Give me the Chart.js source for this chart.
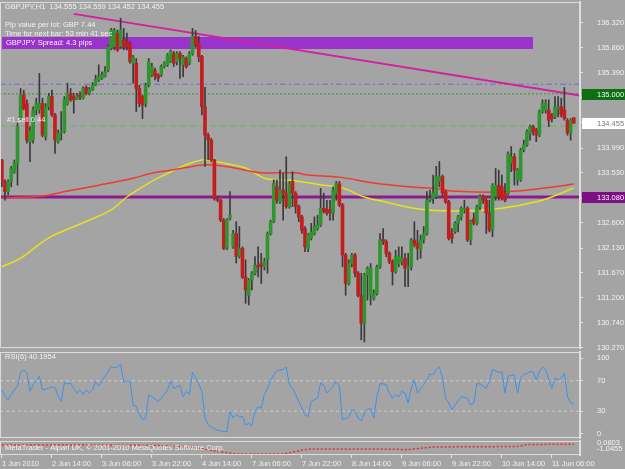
<!DOCTYPE html>
<html>
<head>
<meta charset="utf-8">
<title>GBPJPY,H1</title>
<script src="https://cdn.jsdelivr.net/npm/chart.js@4.4.1/dist/chart.umd.min.js"></script>
<style>
  html, body { margin: 0; padding: 0; background: #a5a4a4; }
  #wrap { position: relative; width: 625px; height: 469px; overflow: hidden; background: #a5a4a4; }
  #wrap canvas { position: absolute; left: 0; }
</style>
</head>
<body>
<div id="wrap">
  <canvas id="priceChart" width="625" height="356" style="top:0px"></canvas>
  <canvas id="rsiChart" width="625" height="90" style="top:350px"></canvas>
  <canvas id="lowerChart" width="625" height="31" style="top:438px"></canvas>
</div>
<script>
const FONT = "'Liberation Sans', Arial, sans-serif";
const TEXT = '#f2f2f2';
const FRAME = '#dcdcdc';
const X_MIN = -0.6;
const X_MAX = 185;

// tick labels
const timeLabels = ['1 Jun 2010', '2 Jun 14:00', '3 Jun 06:00', '3 Jun 22:00', '4 Jun 14:00', '7 Jun 06:00',
  '7 Jun 22:00', '8 Jun 14:00', '9 Jun 06:00', '9 Jun 22:00', '10 Jun 14:00', '11 Jun 06:00'];
const timeLabelBars = [0, 16, 32, 48, 64, 80, 96, 112, 128, 144, 160, 176];
const priceTicks = [136.320, 135.860, 135.390, 134.930, 134.460, 133.990, 133.530, 133.060,
  132.600, 132.130, 131.670, 131.200, 130.740, 130.270];
const rsiTicks = [0, 30, 70, 100];

// hourly candles, 1 Jun 22:00 .. 11 Jun 13:00
const openP = [
  133.77,133.37,133.18,133.37,133.55,133.70,134.54,134.98,134.82,134.11,
  134.14,134.70,134.70,134.82,134.20,134.76,134.95,134.61,134.11,134.27,
  134.30,134.82,135.01,134.95,134.90,134.98,134.92,135.12,135.02,135.07,
  135.16,135.26,135.29,135.32,135.44,135.85,135.88,136.13,135.88,136.00,
  135.97,135.94,135.57,135.57,135.10,134.95,134.82,135.16,135.35,135.44,
  135.35,135.35,135.51,135.54,135.60,135.75,135.60,135.75,135.54,135.66,
  135.57,135.75,136.07,135.94,135.70,134.76,134.23,134.14,133.77,133.05,
  133.02,132.65,132.12,132.68,132.15,132.40,131.97,132.12,131.59,131.25,
  131.53,131.66,131.81,131.84,131.78,131.91,132.40,132.62,133.27,132.99,
  133.21,133.15,132.90,133.37,133.15,132.90,132.71,132.49,132.12,132.31,
  132.40,132.49,132.56,132.87,132.85,132.84,132.78,133.15,133.33,132.93,
  132.00,131.47,131.84,132.00,131.66,131.25,130.73,131.63,131.25,131.19,
  131.28,131.78,132.29,132.25,132.03,131.88,131.69,131.84,131.88,131.94,
  131.75,131.78,132.28,132.22,132.12,132.28,132.40,133.02,133.05,133.09,
  133.37,133.46,133.18,132.99,132.40,132.43,132.59,132.71,132.84,132.87,
  132.28,132.68,132.59,132.90,133.09,133.02,132.78,132.46,133.09,133.30,
  133.27,133.15,133.15,133.71,133.83,133.40,133.40,133.96,134.05,134.27,
  134.39,134.33,134.23,134.67,134.70,134.70,134.61,134.57,134.73,134.76,
  134.70,134.51,134.27,134.555];
const highP = [
  133.78,133.40,133.40,133.65,133.77,134.45,135.10,135.07,134.89,134.39,
  134.76,134.92,135.38,134.92,134.82,135.01,135.07,134.64,134.33,134.67,
  134.95,135.20,135.10,135.01,135.01,135.04,135.13,135.15,135.12,135.21,
  135.35,135.54,135.41,135.51,135.91,136.22,136.22,136.19,136.41,136.22,
  136.13,135.97,135.72,135.66,135.16,134.98,135.20,135.66,135.57,135.48,
  135.38,135.54,135.60,135.75,135.82,135.79,135.79,135.79,135.72,135.69,
  135.79,136.22,136.18,136.07,135.72,135.12,134.27,134.17,133.78,133.08,
  133.04,132.68,132.68,133.18,132.46,132.62,132.53,132.15,131.91,131.56,
  131.69,131.97,132.15,132.03,131.94,132.43,132.65,133.40,133.40,133.58,
  133.52,133.83,133.37,133.55,133.18,132.93,132.74,132.53,132.40,132.59,
  132.71,132.74,133.24,133.15,133.02,133.02,133.27,133.37,133.37,132.96,
  132.03,131.91,132.03,132.03,131.69,131.66,131.66,131.78,131.84,131.35,
  131.81,132.40,132.49,132.28,132.06,131.91,132.09,132.15,132.15,132.03,
  132.03,132.31,132.62,132.46,132.37,132.53,133.18,133.21,133.49,133.65,
  133.74,133.49,133.20,133.02,132.49,132.62,132.74,132.90,133.02,132.90,
  132.65,132.78,132.93,133.12,133.12,133.05,133.02,133.33,133.61,133.58,
  133.49,133.33,133.92,134.02,133.89,133.61,133.99,134.14,134.33,134.42,
  134.42,134.36,134.70,134.89,134.89,134.89,134.64,134.95,134.95,134.92,
  135.12,134.54,134.54,134.559];
const lowP = [
  133.27,133.02,133.12,133.27,133.52,133.30,134.51,134.70,134.08,133.74,
  134.08,134.61,134.64,134.20,134.14,134.70,134.58,133.89,134.08,134.14,
  134.27,134.79,134.86,134.64,134.89,134.89,134.90,134.98,134.98,135.06,
  135.15,135.23,135.27,135.31,135.41,135.82,135.82,135.79,135.85,135.82,
  135.82,135.57,135.20,134.67,134.76,134.54,134.76,135.13,135.32,135.26,
  135.23,135.32,135.48,135.51,135.58,135.51,135.54,135.29,135.32,135.48,
  135.54,135.72,135.88,135.60,134.61,133.65,133.77,133.74,133.02,132.99,
  132.62,132.10,132.10,132.65,132.12,131.85,131.94,131.56,131.10,131.07,
  131.35,131.63,131.59,131.47,131.72,131.66,132.37,132.60,132.96,132.96,
  132.65,132.87,132.87,132.90,132.78,132.62,132.40,132.06,132.06,132.28,
  132.37,132.46,132.53,132.78,132.74,132.65,132.65,133.02,132.90,131.78,
  131.25,131.44,131.78,131.59,131.22,130.42,130.38,131.16,131.07,131.16,
  131.25,131.75,132.19,131.97,131.84,131.44,131.66,131.78,131.81,131.41,
  131.41,131.72,132.15,131.91,131.94,132.22,132.37,132.99,132.96,133.05,
  133.27,133.09,132.96,132.28,132.22,132.40,132.43,132.65,132.78,132.25,
  132.19,132.56,132.56,132.84,132.96,132.40,132.43,132.34,133.02,133.02,
  133.02,132.99,133.12,133.55,133.30,133.30,133.37,133.92,134.02,134.14,
  134.23,134.11,134.20,134.64,134.64,134.39,134.48,134.54,134.57,134.57,
  134.51,134.23,134.14,134.452];
const closeP = [
  133.37,133.18,133.37,133.61,133.72,134.39,134.98,134.73,134.14,134.30,
  134.70,134.82,134.82,134.23,134.76,134.95,134.61,134.14,134.27,134.30,
  134.89,135.01,134.89,134.89,134.96,134.94,135.10,135.01,135.08,135.16,
  135.27,135.33,135.35,135.41,135.88,136.19,136.18,135.82,136.19,135.88,
  135.88,135.60,135.68,135.10,134.82,134.79,135.16,135.60,135.51,135.33,
  135.29,135.51,135.57,135.72,135.79,135.57,135.75,135.66,135.69,135.51,
  135.75,136.07,135.91,135.69,134.76,134.23,134.14,133.77,133.05,133.02,
  132.65,132.12,132.65,132.74,132.40,131.97,132.12,131.59,131.35,131.53,
  131.66,131.81,131.78,131.78,131.88,132.40,132.62,133.33,133.02,133.21,
  133.15,132.90,133.33,133.15,132.90,132.71,132.46,132.15,132.37,132.43,
  132.53,132.56,132.87,132.81,132.78,132.78,133.21,133.33,132.93,132.00,
  131.47,131.84,132.00,131.66,131.25,130.73,131.63,131.75,131.75,131.28,
  131.78,132.28,132.25,132.03,131.88,131.69,131.97,131.97,131.94,131.75,
  131.78,132.28,132.19,132.12,132.28,132.40,133.02,133.05,133.15,133.46,
  133.46,133.15,132.99,132.31,132.31,132.59,132.71,132.87,132.87,132.28,
  132.62,132.59,132.90,133.09,133.02,132.78,132.46,133.30,133.30,133.09,
  133.05,133.02,133.89,133.83,133.58,133.58,133.96,134.05,134.30,134.39,
  134.30,134.23,134.67,134.82,134.82,134.51,134.54,134.76,134.76,134.61,
  134.54,134.27,134.51,134.455];

// moving averages (read at these bars)
const redMABars = [0, 13, 21, 31, 42, 47, 54, 60, 65, 70, 78, 83, 94, 98, 108, 119, 130, 140, 144, 155, 165, 174, 183];
const redMA = [133.06, 133.10, 133.19, 133.30, 133.43, 133.51, 133.58, 133.64, 133.68, 133.66, 133.58, 133.53,
  133.53, 133.49, 133.45, 133.34, 133.27, 133.23, 133.19, 133.17, 133.19, 133.25, 133.32];
const yellowMABars = [0, 6, 15, 26, 35, 40, 47, 52, 59, 64, 67, 72, 78, 84, 88, 94, 103, 109, 116, 124, 130, 136,
  149, 160, 171, 176, 183];
const yellowMA = [131.78, 131.94, 132.32, 132.60, 132.84, 133.08, 133.34, 133.49, 133.68, 133.77, 133.75, 133.70,
  133.62, 133.43, 133.40, 133.38, 133.30, 133.25, 133.08, 132.97, 132.89, 132.84, 132.82, 132.87, 132.99, 133.08, 133.25];

// drawn objects
const trendBars = [23, 185];
const trendPrices = [136.49, 134.97];
const supportLevel = 133.08;
const roundLevel = 135.00;
const pivotLevel = 135.18;
const orderLevel = 134.40;
const bidPrice = 134.455;

// RSI(6)
const rsiValues = [
  58,50,45,52,58,63,81,85,80,56, 65,70,76,58,59,60,62,61,50,43,
  68,66,67,60,54,58,52,58,54,58, 69,63,69,76,82,89,87,88,92,68,
  70,69,38,36,26,19,21,52,49,46, 43,47,52,58,70,60,62,64,49,56,
  52,81,74,66,56,21,12,9,7,5, 4,3,3,30,21,25,23,23,12,14,
  11,30,36,34,52,60,70,78,83,84, 85,88,65,60,52,43,34,25,23,43,
  45,47,67,64,54,58,63,69,63,19, 20,22,32,31,21,17,27,32,34,21,
  49,66,66,65,54,47,52,49,56,54, 41,60,71,54,60,65,71,79,78,85,
  88,74,47,41,32,38,44,49,48,47, 38,41,66,66,63,60,69,85,83,81,
  82,54,76,77,78,54,74,78,80,82, 82,71,82,88,85,72,60,74,71,74,
  80,49,41,40.1954];
const rsiLevels = [70, 30];

// lower indicator (dotted)
const lowerBars = [0, 25, 50, 62, 68, 75, 90, 98, 120, 130, 138, 165, 168, 183];
const lowerValues = [-0.2, -0.2, -0.25, -0.45, -0.8, -1.1, -1.1, -0.6, -0.6, -0.65, -0.4, -0.35, -0.15, -0.12];

const barIdx = closeP.map((c, i) => i);
const pts = (xs, ys) => xs.map((x, i) => ({ x: x, y: ys[i] }));
const flat = v => [{ x: X_MIN, y: v }, { x: X_MAX, y: v }];

function fixY(scale) {
  scale.width = 45;
  scale.paddingTop = 0;
  scale.paddingBottom = 0;
}

function yAxis(extra) {
  return Object.assign({
    position: 'right',
    afterFit: fixY,
    grid: { drawOnChartArea: false, tickLength: 3, color: '#e2e2e2' },
    border: { color: '#e2e2e2', width: 2 },
    ticks: { color: TEXT, font: { family: FONT, size: 7.5 }, padding: 14, autoSkip: false }
  }, extra);
}

const hiddenX = { type: 'linear', min: X_MIN, max: X_MAX, offset: false, display: false };

// light frame round each panel
const framePlugin = {
  id: 'frame',
  afterDraw(chart) {
    const a = chart.chartArea, ctx = chart.ctx;
    ctx.save();
    ctx.strokeStyle = FRAME;
    ctx.lineWidth = 1;
    ctx.strokeRect(a.left + 0.5, a.top + 0.5, a.width - 1, a.height - 1);
    ctx.restore();
  }
};

function text(ctx, s, x, y, color, align) {
  ctx.fillStyle = color || TEXT;
  ctx.textAlign = align || 'left';
  ctx.fillText(s, x, y);
}

// spread banner, header lines, price boxes
const overlayPlugin = {
  id: 'overlay',
  beforeDatasetsDraw(chart) {
    const ctx = chart.ctx;
    ctx.save();
    ctx.fillStyle = '#9a33cc';
    ctx.fillRect(2, 37, 531, 12);
    ctx.restore();
  },
  afterDraw(chart) {
    const ctx = chart.ctx, y = chart.scales.y;
    ctx.save();
    ctx.font = '7.5px ' + FONT;
    ctx.textBaseline = 'middle';
    text(ctx, 'GBPJPY,H1  134.555 134.559 134.452 134.455', 5, 7);
    text(ctx, 'Pip value per lot: GBP 7.44', 5, 25);
    text(ctx, 'Time for next bar: 53 min 41 sec', 5, 34);
    text(ctx, 'GBPJPY Spread: 4.3 pips', 6, 43);
    text(ctx, '#1 sell 0.44', 7, y.getPixelForValue(orderLevel) - 6);

    const boxes = [
      [roundLevel, '#0d6e12', '135.000', '#f4f4f4'],
      [bidPrice, '#ffffff', '134.455', '#7a7a7a'],
      [supportLevel, '#7d0f85', '133.080', '#f4f4f4']
    ];
    boxes.forEach(b => {
      const py = Math.round(y.getPixelForValue(b[0]));
      ctx.fillStyle = b[1];
      ctx.fillRect(582, py - 5, 43, 11);
      text(ctx, b[2], 597, py + 0.5, b[3]);
    });
    ctx.restore();
  }
};

const lineDs = (data, color, extra) => Object.assign({
  type: 'line', data: data, borderColor: color, borderWidth: 1, pointRadius: 0,
  fill: false, tension: 0, yAxisID: 'y'
}, extra);

new Chart(document.getElementById('priceChart'), {
  type: 'bar',
  data: {
    datasets: [
      {
        data: barIdx.map(i => ({ x: i, y: [openP[i], closeP[i]] })),
        backgroundColor: barIdx.map(i => closeP[i] >= openP[i] ? '#2f952f' : '#c41d1d'),
        borderColor: '#1e1e1e', borderWidth: 0,
        barThickness: 3, minBarLength: 1, grouped: false, order: 0
      },
      {
        data: barIdx.map(i => ({ x: i, y: [lowP[i], highP[i]] })),
        backgroundColor: '#3a3a3a', barThickness: 1, grouped: false, order: 1
      },
      lineDs(pts(trendBars, trendPrices), '#d3209e', { borderWidth: 2, order: 2 }),
      lineDs(pts(redMABars, redMA), '#ee3b32', { borderWidth: 1.5, tension: 0.35, order: 3 }),
      lineDs(pts(yellowMABars, yellowMA), '#e6e21e', { borderWidth: 1.5, tension: 0.35, order: 4 }),
      lineDs(flat(supportLevel), '#8a1b8e', { borderWidth: 3, order: 5 }),
      lineDs(flat(roundLevel), '#3f8a3f', { borderDash: [2, 2], order: 6 }),
      lineDs(flat(pivotLevel), '#6a6ad8', { borderDash: [6, 3, 2, 3], order: 7 }),
      lineDs(flat(orderLevel), '#62b562', { borderDash: [6, 4], order: 8 })
    ]
  },
  options: {
    responsive: false,
    animation: false,
    events: [],
    layout: { padding: { top: 2, bottom: 8, left: 0, right: 0 } },
    plugins: { legend: { display: false }, tooltip: { enabled: false } },
    scales: {
      x: hiddenX,
      y: yAxis({
        min: 130.268, max: 136.711,
        afterBuildTicks: s => { s.ticks = priceTicks.map(v => ({ value: v })); },
        ticks: { color: TEXT, font: { family: FONT, size: 7.5 }, padding: 14, autoSkip: false,
          callback: v => v.toFixed(3) }
      })
    }
  },
  plugins: [overlayPlugin, framePlugin]
});

const rsiLabelPlugin = {
  id: 'rsiLabel',
  afterDraw(chart) {
    const ctx = chart.ctx;
    ctx.save();
    ctx.font = '7.5px ' + FONT;
    ctx.textBaseline = 'middle';
    text(ctx, 'RSI(6) ' + rsiValues[rsiValues.length - 1].toFixed(4), 5, 7);
    ctx.restore();
  }
};

new Chart(document.getElementById('rsiChart'), {
  type: 'line',
  data: {
    datasets: [
      lineDs(pts(barIdx, rsiValues), '#3c8ff0', { yAxisID: 'y', order: 0 }),
      lineDs(flat(rsiLevels[0]), '#cdcdcd', { borderDash: [3, 3], order: 1 }),
      lineDs(flat(rsiLevels[1]), '#cdcdcd', { borderDash: [3, 3], order: 2 })
    ]
  },
  options: {
    responsive: false,
    animation: false,
    events: [],
    layout: { padding: { top: 2, bottom: 2, left: 0, right: 0 } },
    plugins: { legend: { display: false }, tooltip: { enabled: false } },
    scales: {
      x: hiddenX,
      y: yAxis({
        min: -5.3, max: 107.9,
        afterBuildTicks: s => { s.ticks = rsiTicks.map(v => ({ value: v })); }
      })
    }
  },
  plugins: [rsiLabelPlugin, framePlugin]
});

const lowerLabelPlugin = {
  id: 'lowerLabel',
  afterDraw(chart) {
    const ctx = chart.ctx;
    ctx.save();
    ctx.font = '7.5px ' + FONT;
    ctx.textBaseline = 'middle';
    text(ctx, 'MetaTrader - Alpari UK, \u00a9 2001-2010 MetaQuotes Software Corp.', 5, 10);
    text(ctx, '0.0803', 597, 5);
    text(ctx, '-1.0455', 597, 11);
    ctx.restore();
  }
};

new Chart(document.getElementById('lowerChart'), {
  type: 'line',
  data: {
    datasets: [
      lineDs(pts(lowerBars, lowerValues), '#f02828', { borderDash: [2, 2], borderWidth: 1.5 })
    ]
  },
  options: {
    responsive: false,
    animation: false,
    events: [],
    layout: { padding: { top: 3, bottom: 0, left: 0, right: 0 } },
    plugins: { legend: { display: false }, tooltip: { enabled: false } },
    scales: {
      x: {
        type: 'linear', min: X_MIN, max: X_MAX, offset: false, position: 'bottom',
        afterFit: s => { s.height = 14; s.paddingLeft = 0; s.paddingRight = 0; },
        afterBuildTicks: s => { s.ticks = timeLabelBars.map(v => ({ value: v })); },
        grid: { drawOnChartArea: false, tickLength: 3, color: '#e2e2e2' },
        border: { display: false },
        ticks: {
          color: TEXT, font: { family: FONT, size: 7.5 }, padding: 1, align: 'start',
          maxRotation: 0, autoSkip: false,
          callback: v => timeLabels[timeLabelBars.indexOf(v)]
        }
      },
      y: yAxis({
        min: -1.2, max: 0.2,
        grid: { display: false },
        ticks: { display: false }
      })
    }
  },
  plugins: [lowerLabelPlugin, framePlugin]
});
</script>
</body>
</html>
